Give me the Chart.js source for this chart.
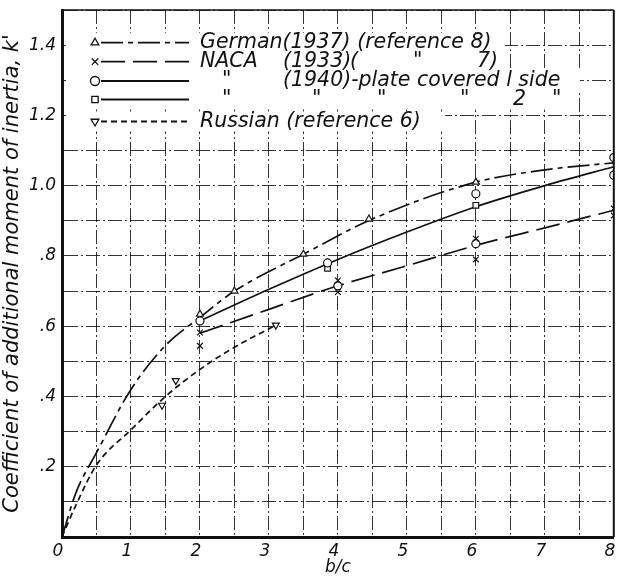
<!DOCTYPE html>
<html>
<head>
<meta charset="utf-8">
<script src="https://cdn.jsdelivr.net/npm/chart.js@4.4.1/dist/chart.umd.min.js"></script>
<style>
  html, body { margin: 0; padding: 0; background: #fff; }
  #wrap { width: 619px; height: 578px; }
</style>
</head>
<body>
<div id="wrap"><canvas id="chart"></canvas></div>
<script>
// values (x = b/c, y = k')
const germanCurveX = [0, 0.2, 0.5, 1, 1.5, 2, 2.5, 3.5, 4.5, 6, 7, 8];
const germanCurveY = [0, 0.125, 0.24, 0.42, 0.545, 0.625, 0.70, 0.805, 0.905, 1.01, 1.045, 1.065];
const germanPtsX = [2, 2.5, 3.5, 4.45, 6];
const germanPtsY = [0.634, 0.70, 0.805, 0.905, 1.01];

const naca33CurveX = [2, 3, 4, 5, 6, 7, 8];
const naca33CurveY = [0.58, 0.648, 0.715, 0.772, 0.83, 0.88, 0.93];
const naca33PtsX = [2, 2, 4, 4, 6, 6, 8, 8];
const naca33PtsY = [0.582, 0.544, 0.73, 0.697, 0.849, 0.79, 0.935, 0.915];

const plateCurveX = [2, 3, 4, 5, 6, 7, 8];
const plateCurveY = [0.615, 0.705, 0.79, 0.868, 0.94, 1.0, 1.054];
const plate1PtsX = [2, 3.85, 4, 6, 6, 8, 8];
const plate1PtsY = [0.615, 0.78, 0.715, 0.977, 0.835, 1.08, 1.03];
const plate2PtsX = [3.85, 6];
const plate2PtsY = [0.765, 0.944];

const russianCurveX = [0, 0.2, 0.5, 1, 1.5, 2, 2.5, 3.1];
const russianCurveY = [0, 0.09, 0.205, 0.305, 0.40, 0.477, 0.54, 0.603];
const russianPtsX = [1.45, 1.65, 3.1];
const russianPtsY = [0.375, 0.445, 0.603];

// legend text, split in pieces the way it is lettered on the drawing
const legendText = [
  ['German(1937) (reference 8)'],
  ['NACA', '(1933)', '(', '"', '7)'],
  ['"', '(1940)-plate covered l side'],
  ['"', '"', '"', '"', '2', '"'],
  ['Russian (reference 6)']
];

const FONT = 'DejaVu Sans';
const INK = '#111';

function pts(xs, ys) {
  return xs.map((x, i) => ({ x: x, y: ys[i] }));
}

const dashGerman = [22, 5, 5, 5];
const dashNaca = [24, 8];
const dashRussian = [6, 4];

function curve(data, dash) {
  return {
    data: data, showLine: true, borderColor: INK, borderWidth: 1.7,
    borderDash: dash, pointRadius: 0, cubicInterpolationMode: 'monotone', order: 2
  };
}
function marks(data, style, rot) {
  return {
    data: data, showLine: false, pointStyle: style, rotation: rot || 0,
    pointRadius: 4, borderWidth: 1.2, borderColor: INK, backgroundColor: '#fff', order: 1
  };
}

// legend samples, same order as legendText
const legendStyle = [
  { dash: dashGerman, point: 'triangle', rot: 0 },
  { dash: dashNaca, point: 'crossRot', rot: 0 },
  { dash: [], point: 'circle', rot: 0 },
  { dash: [], point: 'rect', rot: 0 },
  { dash: dashRussian, point: 'triangle', rot: 180 }
];

const legendPlugin = {
  id: 'drawnLegend',
  beforeDatasetsDraw(chart) {
    const ctx = chart.ctx;
    const rows = [42.7, 61.7, 81, 99.5, 121.5];
    const ends = [505, 505, 580, 565, 445];
    ctx.save();
    ctx.fillStyle = '#fff';
    rows.forEach((y, i) => ctx.fillRect(66, y - 10, ends[i] - 66, 20));
    ctx.restore();
  },
  afterDatasetsDraw(chart) {
    const ctx = chart.ctx;
    const a = chart.chartArea;
    const rows = [42.7, 61.7, 81, 99.5, 121.5];
    const xs = [[200], [200, 283, 350, 413, 477], [222, 283], [222, 312, 377, 460, 513, 552], [200]];
    ctx.save();
    // frame top and right
    ctx.strokeStyle = INK;
    ctx.lineWidth = 1.5;
    ctx.beginPath(); ctx.moveTo(a.left, a.top); ctx.lineTo(a.right, a.top); ctx.stroke();
    ctx.lineWidth = 2;
    ctx.beginPath(); ctx.moveTo(a.right, a.top); ctx.lineTo(a.right, a.bottom); ctx.stroke();

    legendStyle.forEach((s, i) => {
      const y = rows[i];
      ctx.strokeStyle = INK;
      ctx.lineWidth = 1.8;
      ctx.setLineDash(s.dash);
      ctx.beginPath(); ctx.moveTo(101, y); ctx.lineTo(189, y); ctx.stroke();
      ctx.setLineDash([]);
      ctx.lineWidth = 1.3;
      ctx.fillStyle = '#fff';
      Chart.helpers.drawPoint(ctx, { pointStyle: s.point, rotation: s.rot, radius: 4.5, borderWidth: 1.3 }, 95, y);
      ctx.fillStyle = INK;
      ctx.font = 'italic 20.5px "' + FONT + '"';
      ctx.textBaseline = 'middle';
      legendText[i].forEach((t, j) => ctx.fillText(t, xs[i][j], y));
    });
    ctx.restore();
  }
};

new Chart(document.getElementById('chart'), {
  type: 'scatter',
  data: {
    datasets: [
      marks(pts(germanPtsX, germanPtsY), 'triangle'),
      marks(pts(naca33PtsX, naca33PtsY), 'crossRot'),
      marks(pts(plate1PtsX, plate1PtsY), 'circle'),
      marks(pts(plate2PtsX, plate2PtsY), 'rect'),
      marks(pts(russianPtsX, russianPtsY), 'triangle', 180),
      curve(pts(germanCurveX, germanCurveY), dashGerman),
      curve(pts(naca33CurveX, naca33CurveY), dashNaca),
      curve(pts(plateCurveX, plateCurveY), []),
      curve(pts(russianCurveX, russianCurveY), dashRussian)
    ]
  },
  options: {
    responsive: true,
    maintainAspectRatio: false,
    animation: false,
    layout: { padding: { top: 10, right: 3, left: 0, bottom: 0 } },
    plugins: { legend: { display: false }, tooltip: { enabled: false } },
    scales: {
      x: {
        type: 'linear', min: 0, max: 8,
        afterFit(s) { s.height = 41; s.paddingLeft = 0; s.paddingRight = 0; },
        grid: { color: 'rgba(0,0,0,0.8)', lineWidth: 1, drawTicks: false },
        border: { color: INK, width: 3, dash: [14, 3, 2, 3] },
        ticks: {
          stepSize: 0.5, autoSkip: false, maxRotation: 0, padding: 4, labelOffset: -4,
          color: INK, font: { family: FONT, size: 17, style: 'italic' },
          callback: v => (Number.isInteger(v) ? String(v) : '')
        },
        title: {
          display: true, text: 'b/c', color: INK, padding: 0,
          font: { family: FONT, size: 17, style: 'italic' }
        }
      },
      y: {
        type: 'linear', min: 0, max: 1.5,
        afterFit(s) { s.width = 62; s.paddingTop = 0; s.paddingBottom = 0; },
        grid: { color: 'rgba(0,0,0,0.8)', lineWidth: 1, drawTicks: false },
        border: { color: INK, width: 3, dash: [14, 3, 2, 3] },
        ticks: {
          stepSize: 0.1, autoSkip: false, padding: 6,
          color: INK, font: { family: FONT, size: 17, style: 'italic' },
          callback: v => {
            const k = Math.round(v * 10);
            if (k === 0 || k % 2 !== 0 || k > 14) return '';
            return k < 10 ? '.' + k : (k / 10).toFixed(1);
          }
        },
        title: {
          display: true, text: "Coefficient of additional moment of inertia, k'", color: INK,
          padding: { top: 0, bottom: 0 },
          font: { family: FONT, size: 21, style: 'italic' }
        }
      }
    }
  },
  plugins: [legendPlugin]
});
</script>
</body>
</html>
